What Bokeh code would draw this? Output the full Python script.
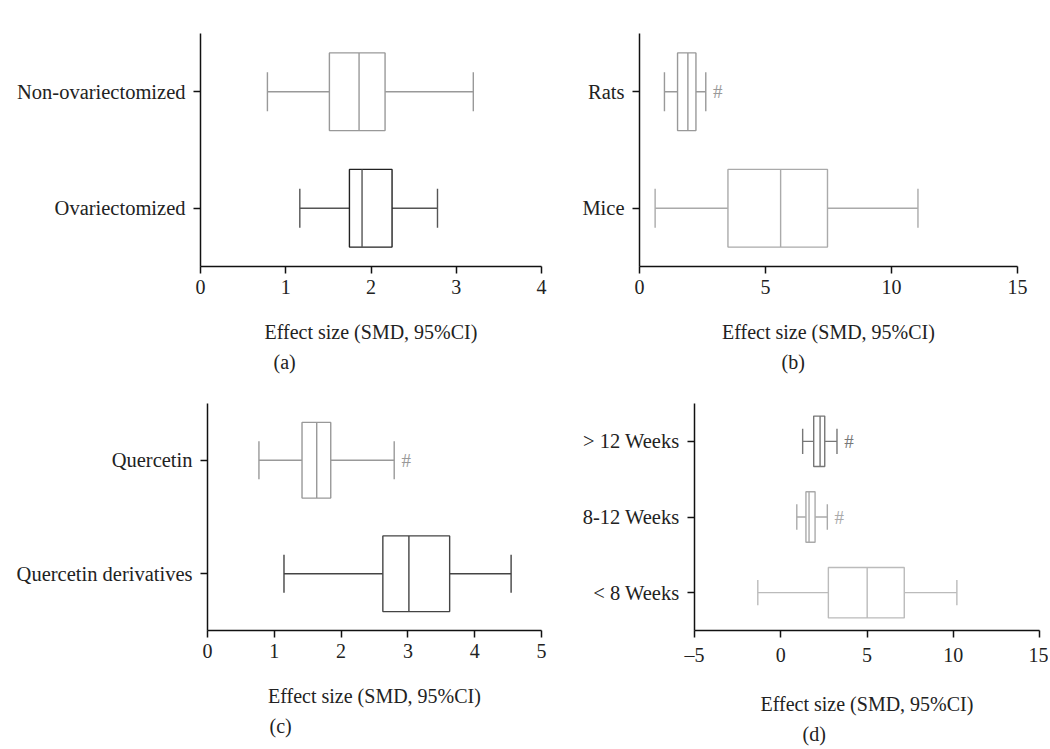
from bokeh.plotting import figure
from bokeh.models import Range1d, FixedTicker, Title
from bokeh.layouts import column, row
from bokeh.embed import file_html
from bokeh.resources import INLINE

FONT = "Liberation Serif"
XLABEL = "Effect size (SMD, 95%CI)"

# ---- Panel (a): ovariectomy status ----
A_CATS = ["Ovariectomized", "Non-ovariectomized"]
A_LOW = [1.165, 0.785]
A_Q1 = [1.747, 1.512]
A_MED = [1.895, 1.86]
A_Q3 = [2.247, 2.165]
A_HIGH = [2.78, 3.20]
A_SIG = [False, False]
A_TICKS = [0, 1, 2, 3, 4]

# ---- Panel (b): species ----
B_CATS = ["Mice", "Rats"]
B_LOW = [0.62, 0.99]
B_Q1 = [3.51, 1.51]
B_MED = [5.60, 1.92]
B_Q3 = [7.46, 2.24]
B_HIGH = [11.05, 2.63]
B_SIG = [False, True]
B_TICKS = [0, 5, 10, 15]

# ---- Panel (c): compound ----
C_CATS = ["Quercetin derivatives", "Quercetin"]
C_LOW = [1.145, 0.77]
C_Q1 = [2.625, 1.415]
C_MED = [3.015, 1.635]
C_Q3 = [3.625, 1.845]
C_HIGH = [4.545, 2.795]
C_SIG = [False, True]
C_TICKS = [0, 1, 2, 3, 4, 5]

# ---- Panel (d): duration ----
D_CATS = ["< 8 Weeks", "8-12 Weeks", "> 12 Weeks"]
D_LOW = [-1.33, 0.93, 1.27]
D_Q1 = [2.76, 1.46, 1.91]
D_MED = [5.01, 1.64, 2.28]
D_Q3 = [7.16, 1.99, 2.55]
D_HIGH = [10.21, 2.70, 3.26]
D_SIG = [False, True, True]
D_TICKS = [-5, 0, 5, 10, 15]


def make_panel(cats, low, q1, med, q3, high, sig, ticks, box_cols, line_cols,
               W, H, bl, br, bt, bb, letter, letter_off):
    n = len(cats)
    ys = list(range(n))
    p = figure(width=W, height=H,
               x_range=Range1d(ticks[0], ticks[-1]),
               y_range=Range1d(-0.5, n - 0.5),
               output_backend="svg", toolbar_location=None,
               min_border_left=bl, min_border_right=br,
               min_border_top=bt, min_border_bottom=bb,
               background_fill_color="white", border_fill_color="white")
    p.outline_line_color = None
    p.grid.visible = False

    lw = 1.4
    bh = 0.667
    cap = 0.167
    # whiskers
    p.segment(x0=low, y0=ys, x1=q1, y1=ys, line_color=line_cols, line_width=lw)
    p.segment(x0=q3, y0=ys, x1=high, y1=ys, line_color=line_cols, line_width=lw)
    p.segment(x0=low, y0=[y - cap for y in ys], x1=low, y1=[y + cap for y in ys],
              line_color=line_cols, line_width=lw)
    p.segment(x0=high, y0=[y - cap for y in ys], x1=high, y1=[y + cap for y in ys],
              line_color=line_cols, line_width=lw)
    # boxes
    p.hbar(y=ys, left=q1, right=q3, height=bh, fill_color="white",
           line_color=box_cols, line_width=lw)
    # medians
    p.segment(x0=med, y0=[y - bh / 2 for y in ys], x1=med, y1=[y + bh / 2 for y in ys],
              line_color=line_cols, line_width=lw)
    # significance marks
    sx = [h for h, s in zip(high, sig) if s]
    sy = [y for y, s in zip(ys, sig) if s]
    sc = [c for c, s in zip(line_cols, sig) if s]
    if sx:
        p.text(x=sx, y=sy, text=["#"] * len(sx), x_offset=12,
               text_align="center", text_baseline="middle",
               text_font="Liberation Serif", text_font_size="19px", text_color=sc)

    # axes
    p.xaxis.ticker = FixedTicker(ticks=ticks)
    p.xaxis.major_label_overrides = {t: (("\u2013" + str(-t)) if t < 0 else str(t)) for t in ticks}
    p.yaxis.ticker = FixedTicker(ticks=ys)
    p.yaxis.major_label_overrides = {y: c for y, c in zip(ys, cats)}
    for ax in (p.xaxis[0], p.yaxis[0]):
        ax.axis_line_color = "#111111"
        ax.axis_line_width = 1.5
        ax.major_tick_line_color = "#111111"
        ax.major_tick_line_width = 1.5
        ax.major_tick_out = 7
        ax.major_tick_in = 0
        ax.minor_tick_out = 0
        ax.minor_tick_in = 0
        ax.major_label_text_font = FONT
        ax.major_label_text_color = "#222222"
    p.xaxis.major_label_text_font_size = "20px"
    p.yaxis.major_label_text_font_size = "20.5px"
    p.xaxis.major_label_standoff = 6
    p.yaxis.major_label_standoff = 8
    p.xaxis.axis_label = XLABEL
    p.xaxis.axis_label_text_font = FONT
    p.xaxis.axis_label_text_font_size = "20px"
    p.xaxis.axis_label_text_font_style = "normal"
    p.xaxis.axis_label_text_color = "#222222"
    p.xaxis.axis_label_standoff = 24

    t = Title(text=letter, align="left", offset=letter_off, standoff=6,
              text_font=FONT, text_font_size="20px", text_font_style="normal",
              text_color="#222222")
    p.add_layout(t, "below")
    return p


pa = make_panel(A_CATS, A_LOW, A_Q1, A_MED, A_Q3, A_HIGH, A_SIG, A_TICKS,
                ["#222222", "#999999"], ["#555555", "#999999"],
                568, 385, 200, 27, 33, 119, "(a)", 73)
pb = make_panel(B_CATS, B_LOW, B_Q1, B_MED, B_Q3, B_HIGH, B_SIG, B_TICKS,
                ["#aaaaaa", "#999999"], ["#aaaaaa", "#999999"],
                480, 385, 71, 31, 15, 118, "(b)", 142)
pc = make_panel(C_CATS, C_LOW, C_Q1, C_MED, C_Q3, C_HIGH, C_SIG, C_TICKS,
                ["#444444", "#999999"], ["#444444", "#999999"],
                568, 363, 207, 27, 18, 118, "(c)", 62)
pd = make_panel(D_CATS, D_LOW, D_Q1, D_MED, D_Q3, D_HIGH, D_SIG, D_TICKS,
                ["#bbbbbb", "#aaaaaa", "#777777"], ["#bbbbbb", "#aaaaaa", "#777777"],
                480, 363, 126, 9, 17, 118, "(d)", 108)

layout = column(row(pa, pb), row(pc, pd))
open("out.html", "w").write(file_html(layout, INLINE))
